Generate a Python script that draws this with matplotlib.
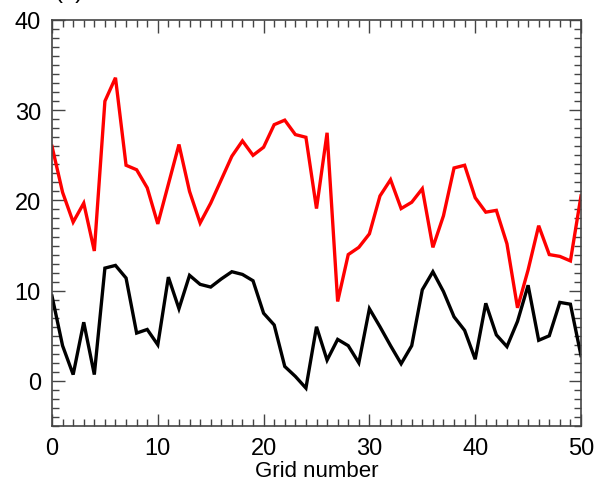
import matplotlib
matplotlib.use("Agg")
import matplotlib.pyplot as plt
from matplotlib.ticker import MultipleLocator

grid = list(range(51))
red_values = [26.0, 20.9, 17.6, 19.7, 14.4, 31.0, 33.6, 23.9, 23.4, 21.4,
              17.4, 21.8, 26.2, 21.0, 17.5, 19.7, 22.3, 24.9, 26.6, 25.0,
              25.9, 28.4, 28.9, 27.3, 27.0, 19.1, 27.5, 8.8, 14.0, 14.8,
              16.3, 20.5, 22.3, 19.1, 19.8, 21.3, 14.8, 18.3, 23.6, 23.9,
              20.3, 18.7, 18.9, 15.2, 8.1, 12.3, 17.2, 14.0, 13.8, 13.3,
              20.5]
black_values = [9.4, 3.9, 0.7, 6.5, 0.7, 12.5, 12.8, 11.4, 5.3, 5.7,
                4.0, 11.5, 8.0, 11.7, 10.7, 10.4, 11.3, 12.1, 11.8, 11.1,
                7.5, 6.2, 1.6, 0.5, -0.8, 6.0, 2.3, 4.6, 3.9, 2.0,
                8.0, 6.0, 3.9, 1.9, 3.9, 10.1, 12.1, 9.9, 7.1, 5.6,
                2.4, 8.6, 5.1, 3.8, 6.6, 10.6, 4.5, 5.0, 8.7, 8.5,
                2.8]

plt.rcParams['font.family'] = ['Liberation Sans', 'DejaVu Sans']

fig = plt.figure(figsize=(5.97, 4.81), dpi=100)
ax = fig.add_axes([52/597, 1 - 427/481, (581-52)/597, (427-21)/481])

ax.plot(grid, red_values, color='#ff0000', lw=2.4, solid_joinstyle='miter')
ax.plot(grid, black_values, color='black', lw=2.4, solid_joinstyle='miter')

ax.set_xlim(0, 50)
ax.set_ylim(-5, 40)
ax.xaxis.set_major_locator(MultipleLocator(10))
ax.xaxis.set_minor_locator(MultipleLocator(1))
ax.yaxis.set_major_locator(MultipleLocator(10))
ax.yaxis.set_minor_locator(MultipleLocator(1))
ax.tick_params(which='both', direction='in', top=True, right=True,
               color='#444444', width=1.0)
ax.tick_params(which='major', length=9, labelsize=17, pad=8)
ax.tick_params(which='minor', length=5)
for s in ax.spines.values():
    s.set_color('#444444')
    s.set_linewidth(1.2)

ax.set_xlabel('Grid number', fontsize=16, labelpad=1)

fig.text(54/597, 1.004, '(a)', fontsize=17, va='baseline', ha='left')

fig.savefig('out.png', dpi=100)
